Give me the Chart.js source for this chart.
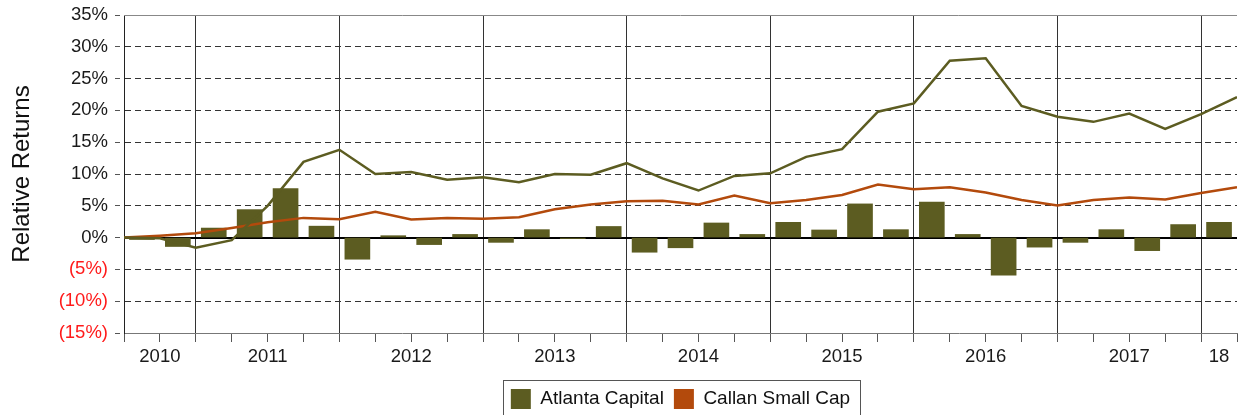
<!DOCTYPE html>
<html>
<head>
<meta charset="utf-8">
<script src="https://cdn.jsdelivr.net/npm/chart.js@4"></script>
<style>
  html, body { margin: 0; padding: 0; background: #fff; }
  canvas { display: block; }
</style>
</head>
<body>
<canvas id="relReturnsChart" width="1238" height="415"></canvas>
<script>
// quarterly data, 2010 Q3 .. 2018 Q1
const yearLabels = ['2010', '2011', '2012', '2013', '2014', '2015', '2016', '2017', '18'];
const yearLabelAt = [1, 4, 8, 12, 16, 20, 24, 28, 30.5];   // quarter index where the year label sits
const yearBreaks = [2, 6, 10, 14, 18, 22, 26, 30];

// quarterly relative return of Atlanta Capital (bars)
const atlantaQuarterly = [
  -0.3, -1.4, 1.5, 4.4, 7.7, 1.8,
  -3.4, 0.3, -1.1, 0.5,
  -0.75, 1.25, -0.15, 1.75,
  -2.3, -1.6, 2.3, 0.5,
  2.4, 1.2, 5.3, 1.25,
  5.6, 0.5, -5.9, -1.5,
  -0.75, 1.25, -2.05, 2.05,
  2.4
];

// cumulative relative returns (lines), one point per quarter end
const atlantaCumulative = [
  0, -0.1, -1.6, -0.4, 5.0, 11.9, 13.8,
  10.0, 10.3, 9.1, 9.5,
  8.7, 10.0, 9.9, 11.7,
  9.3, 7.4, 9.7, 10.1,
  12.7, 13.9, 19.8, 21.1,
  27.8, 28.2, 20.7, 19.0,
  18.2, 19.5, 17.1, 19.4,
  22.1
];
const callanCumulative = [
  0, 0.3, 0.7, 1.5, 2.4, 3.1, 2.9,
  4.05, 2.85, 3.1, 2.95,
  3.2, 4.45, 5.2, 5.7,
  5.8, 5.2, 6.6, 5.4,
  5.9, 6.7, 8.35, 7.6,
  7.9, 7.1, 5.9, 5.05,
  5.9, 6.3, 6.0, 7.0,
  7.9
];

const OLIVE = '#5c5c21';
const RUST = '#b34a0c';
const FONT = "'Liberation Sans', Arial, sans-serif";

const barPoints = atlantaQuarterly.map((v, i) => ({ x: i + 0.5, y: v }));
const atlantaLine = atlantaCumulative.map((v, i) => ({ x: i, y: v }));
const callanLine = callanCumulative.map((v, i) => ({ x: i, y: v }));

const xTickValues = [];
for (let i = 0; i <= atlantaQuarterly.length; i++) xTickValues.push(i);
xTickValues.push(30.5);
xTickValues.sort((a, b) => a - b);

// zero line + top frame + box round the legend
const extras = {
  id: 'extras',
  beforeDatasetsDraw(chart) {
    const { ctx, chartArea, scales } = chart;
    const y0 = Math.round(scales.y.getPixelForValue(0));
    ctx.save();
    ctx.strokeStyle = '#000';
    ctx.lineWidth = 2;
    ctx.beginPath();
    ctx.moveTo(chartArea.left, y0);
    ctx.lineTo(chartArea.right, y0);
    ctx.stroke();
    const yTop = Math.round(scales.y.getPixelForValue(35)) + 0.5;
    ctx.strokeStyle = '#888';
    ctx.lineWidth = 1;
    ctx.beginPath();
    ctx.moveTo(chartArea.left, yTop);
    ctx.lineTo(chartArea.right, yTop);
    ctx.stroke();
    ctx.restore();
  },
  afterDraw(chart) {
    const boxes = chart.legend.legendHitBoxes;
    if (!boxes || !boxes.length) return;
    const first = boxes[0];
    const last = boxes[boxes.length - 1];
    const ctx = chart.ctx;
    const x1 = Math.round(first.left - 8) + 0.5;
    const x2 = Math.round(last.left + last.width + 10) + 0.5;
    const y1 = Math.round(first.top - 9) + 0.5;
    const y2 = Math.round(first.top + first.height + 9) + 0.5;
    ctx.save();
    ctx.strokeStyle = '#555';
    ctx.lineWidth = 1;
    ctx.strokeRect(x1, y1, x2 - x1, y2 - y1);
    ctx.restore();
  }
};

const data = {
  datasets: [
    {
      type: 'bar',
      label: 'Atlanta Capital',
      data: barPoints,
      backgroundColor: OLIVE,
      borderWidth: 0,
      barThickness: 25,
      order: 3,
    },
    {
      type: 'line',
      label: 'Callan Small Cap',
      data: callanLine,
      borderColor: RUST,
      backgroundColor: RUST,
      borderWidth: 2.5,
      pointRadius: 0,
      tension: 0,
      order: 2,
    },
    {
      type: 'line',
      label: 'Atlanta Capital cumulative',
      data: atlantaLine,
      borderColor: OLIVE,
      backgroundColor: OLIVE,
      borderWidth: 2.5,
      pointRadius: 0,
      tension: 0,
      order: 1,
    },
  ],
};

const options = {
  responsive: false,
  animation: false,
  layout: { padding: { top: 15, right: 1, left: 0, bottom: -4 } },
  scales: {
    x: {
      type: 'linear',
      min: 0,
      max: atlantaQuarterly.length,
      offset: false,
      afterBuildTicks: (scale) => {
        scale.ticks = xTickValues.map((v) => ({ value: v }));
      },
      afterFit: (scale) => { scale.height = 46; },
      ticks: {
        autoSkip: false,
        maxRotation: 0,
        padding: 0,
        color: '#1a1a1a',
        font: { family: FONT, size: 18.5, lineHeight: 1.63 },
        callback: (v) => {
          const k = yearLabelAt.indexOf(v);
          return k >= 0 ? yearLabels[k] : '';
        },
      },
      grid: {
        offset: false,
        drawTicks: true,
        tickLength: 9,
        color: (ctx) => (ctx.tick && yearBreaks.includes(ctx.tick.value) ? '#333' : 'rgba(0,0,0,0)'),
        tickColor: (ctx) => (ctx.tick && ctx.tick.value === 30.5 ? 'rgba(0,0,0,0)' : '#555'),
      },
      border: { display: true, color: '#777', width: 1 },
    },
    y: {
      min: -15,
      max: 35,
      afterFit: (scale) => { scale.width = 124; },
      ticks: {
        stepSize: 5,
        padding: 7,
        font: { family: FONT, size: 18.5, lineHeight: 0.8 },
        color: (ctx) => (ctx.tick && ctx.tick.value < 0 ? '#ff1a1a' : '#1a1a1a'),
        callback: (v) => (v < 0 ? '(' + (-v) + '%)' : v + '%'),
      },
      grid: {
        tickLength: 9,
        color: (ctx) => (ctx.tick && (ctx.tick.value === 35 || ctx.tick.value === -15 || ctx.tick.value === 0) ? 'rgba(0,0,0,0)' : '#333'),
        tickColor: '#555',
        tickBorderDash: [5, 4],
      },
      border: { display: true, color: '#222', width: 1, dash: [6, 4] },
      title: {
        display: true,
        text: 'Relative Returns',
        color: '#111',
        font: { family: FONT, size: 24 },
        padding: { top: 8, bottom: 0 },
      },
    },
  },
  plugins: {
    tooltip: { enabled: false },
    legend: {
      position: 'bottom',
      fullSize: false,
      labels: {
        boxWidth: 20,
        boxHeight: 20,
        padding: 10,
        color: '#111',
        font: { family: FONT, size: 19 },
        filter: (item) => item.datasetIndex !== 2,
        sort: (a, b) => a.datasetIndex - b.datasetIndex,
        generateLabels: (chart) =>
          Chart.defaults.plugins.legend.labels.generateLabels(chart).map((l) => ({ ...l, lineWidth: 0 })),
      },
    },
  },
};

new Chart('relReturnsChart', { type: 'bar', data, options, plugins: [extras] });
</script>
</body>
</html>
